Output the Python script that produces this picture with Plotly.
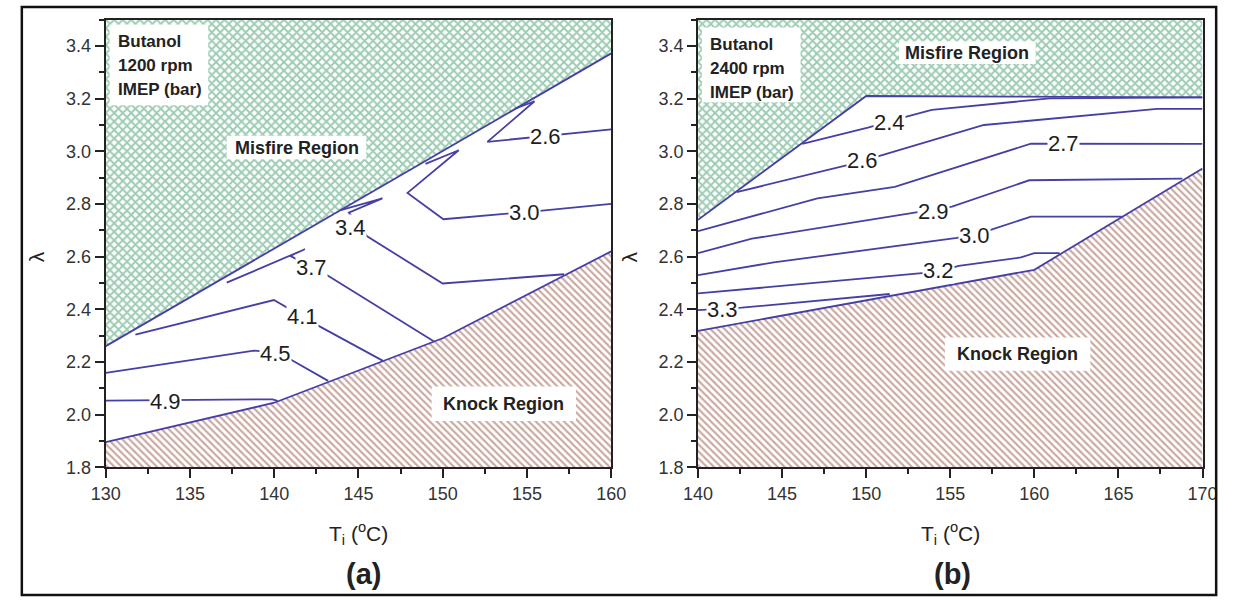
import plotly.graph_objects as go

W, H = 1238, 612

# ---------------- Panel (a): Butanol 1200 rpm ----------------
a_xrange = [130, 160]
a_misfire_x = [130, 160]
a_misfire_y = [2.26, 3.372]
a_knock_x = [130, 140, 150, 160]
a_knock_y = [1.895, 2.045, 2.29, 2.62]

a_c26_x = [154.3, 155.45, 152.65, 157.1, 160.0]
a_c26_y = [3.162, 3.19, 3.036, 3.066, 3.083]
a_c30_x = [148.98, 150.95, 147.91, 150.04, 155.75, 160.0]
a_c30_y = [2.952, 3.004, 2.842, 2.742, 2.774, 2.80]
a_c34_x = [143.95, 146.42, 144.43, 145.49, 150.0, 157.2]
a_c34_y = [2.777, 2.821, 2.767, 2.678, 2.498, 2.533]
a_c37_x = [137.18, 141.82, 140.95, 143.17, 149.49]
a_c37_y = [2.501, 2.628, 2.603, 2.528, 2.278]
a_c41_x = [131.76, 139.98, 142.69, 146.46]
a_c41_y = [2.304, 2.435, 2.335, 2.204]
a_c45_x = [130, 138.8, 140.1, 140.95, 143.2]
a_c45_y = [2.158, 2.243, 2.236, 2.21, 2.128]
a_c49_x = [130, 139.9, 140.2]
a_c49_y = [2.053, 2.058, 2.052]

a_label_text = ["2.6", "3.0", "3.4", "3.7", "4.1", "4.5", "4.9"]
a_label_x = [156.13, 154.88, 144.53, 142.2, 141.66, 140.08, 133.52]
a_label_y = [3.058, 2.767, 2.709, 2.559, 2.372, 2.231, 2.05]

# ---------------- Panel (b): Butanol 2400 rpm ----------------
b_xrange = [140, 170]
b_misfire_x = [140, 150, 170]
b_misfire_y = [2.74, 3.21, 3.205]
b_knock_x = [140, 160, 170]
b_knock_y = [2.318, 2.55, 2.935]

b_c24_x = [146.2, 150.1, 152.4, 153.9, 160.9, 170]
b_c24_y = [3.028, 3.09, 3.132, 3.157, 3.201, 3.205]
b_c26_x = [142.3, 149.8, 150.8, 157.0, 167.3, 170]
b_c26_y = [2.845, 2.962, 2.983, 3.10, 3.161, 3.161]
b_c27_x = [140, 147.1, 151.7, 159.8, 170]
b_c27_y = [2.697, 2.821, 2.865, 3.029, 3.028]
b_c29_x = [140, 143.2, 155.1, 159.7, 168.8]
b_c29_y = [2.613, 2.668, 2.79, 2.89, 2.896]
b_c30_x = [140, 144.5, 155.4, 157.4, 159.8, 165.2]
b_c30_y = [2.53, 2.578, 2.671, 2.702, 2.752, 2.752]
b_c32_x = [140, 154.3, 155.5, 159.2, 160.0, 161.5]
b_c32_y = [2.46, 2.543, 2.565, 2.597, 2.613, 2.613]
b_c33_x = [140, 142.6, 151.4]
b_c33_y = [2.397, 2.406, 2.458]

b_label_text = ["2.4", "2.6", "2.7", "2.9", "3.0", "3.2", "3.3"]
b_label_x = [151.37, 149.77, 161.76, 154.02, 156.44, 154.31, 141.45]
b_label_y = [3.11, 2.964, 3.029, 2.773, 2.68, 2.547, 2.399]

y_range = [1.8, 3.5]

LINE = "#4640a4"
GREEN = "#3a9868"
BROWN = "#94523f"
FONT = "Liberation Sans, Arial, sans-serif"

fig = go.Figure()


def add_panel(xa, ya, xr, mx, my, kx, ky, contours):
    # misfire region (crosshatch) above boundary
    fig.add_trace(go.Scatter(
        x=mx + [xr[1], xr[0]], y=my + [y_range[1], y_range[1]],
        fill="toself", mode="none", xaxis=xa, yaxis=ya,
        fillcolor="rgba(0,0,0,0)",
        fillpattern=dict(shape="x", fgcolor=GREEN, bgcolor="white",
                         size=6, solidity=0.55),
        hoverinfo="skip", showlegend=False))
    # knock region (diagonal hatch) below boundary
    fig.add_trace(go.Scatter(
        x=kx + [xr[1], xr[0]], y=ky + [y_range[0], y_range[0]],
        fill="toself", mode="none", xaxis=xa, yaxis=ya,
        fillcolor="rgba(0,0,0,0)",
        fillpattern=dict(shape="\\", fgcolor=BROWN, bgcolor="white",
                         size=5, solidity=0.42),
        hoverinfo="skip", showlegend=False))
    for cx, cy in [(mx, my), (kx, ky)] + contours:
        fig.add_trace(go.Scatter(
            x=cx, y=cy, mode="lines", xaxis=xa, yaxis=ya,
            line=dict(color=LINE, width=1.8),
            hoverinfo="skip", showlegend=False))


add_panel("x", "y", a_xrange, a_misfire_x, a_misfire_y, a_knock_x, a_knock_y,
          [(a_c26_x, a_c26_y), (a_c30_x, a_c30_y), (a_c34_x, a_c34_y),
           (a_c37_x, a_c37_y), (a_c41_x, a_c41_y), (a_c45_x, a_c45_y),
           (a_c49_x, a_c49_y)])
add_panel("x2", "y2", b_xrange, b_misfire_x, b_misfire_y, b_knock_x, b_knock_y,
          [(b_c24_x, b_c24_y), (b_c26_x, b_c26_y), (b_c27_x, b_c27_y),
           (b_c29_x, b_c29_y), (b_c30_x, b_c30_y), (b_c32_x, b_c32_y),
           (b_c33_x, b_c33_y)])

annotations = []
for xref, yref, tx, xs, ys in [("x", "y", a_label_text, a_label_x, a_label_y),
                               ("x2", "y2", b_label_text, b_label_x, b_label_y)]:
    for t, x, y in zip(tx, xs, ys):
        annotations.append(dict(x=x, y=y, xref=xref, yref=yref, text=t,
                                showarrow=False, bgcolor="white", borderpad=0,
                                font=dict(family=FONT, size=22, color="#1e1e1e")))


def P(px, py):
    return px / W, 1 - py / H


def txt(px, py, text, size, bold=False, xanchor="center", angle=0):
    x, y = P(px, py)
    annotations.append(dict(x=x, y=y, xref="paper", yref="paper",
                            text=("<b>%s</b>" % text) if bold else text,
                            showarrow=False, xanchor=xanchor, yanchor="middle",
                            textangle=angle,
                            font=dict(family=FONT, size=size, color="#222")))


# info text
for i, line in enumerate(["Butanol", "1200 rpm", "IMEP (bar)"]):
    txt(103, [42, 67, 91][i], line, 17, bold=True, xanchor="left")
for i, line in enumerate(["Butanol", "2400 rpm", "IMEP (bar)"]):
    txt(710, [45, 70, 94][i], line, 17, bold=True, xanchor="left")
txt(288.5, 150, "Misfire Region", 18, bold=True)
txt(976, 54, "Misfire Region", 18, bold=True)
txt(501, 411, "Knock Region", 18, bold=True)
txt(1027, 360, "Knock Region", 18, bold=True)
txt(352, 542, "T<sub>i</sub> (<sup>o</sup>C)", 21)
txt(958.5, 542, "T<sub>i</sub> (<sup>o</sup>C)", 21)
txt(357, 584, "(a)", 29, bold=True)
txt(961, 584, "(b)", 29, bold=True)
txt(22, 261, "λ", 21, angle=-90)
txt(630, 261, "λ", 21, angle=-90)

shapes = []
for (x0, x1, y0, y1) in [(97, 198, 25, 107), (704, 805, 28, 104),
                         (217, 360, 138, 162), (906, 1046, 42, 65),
                         (427, 575, 393, 428), (953, 1102, 343, 377)]:
    px0, py0 = P(x0, y1)
    px1, py1 = P(x1, y0)
    shapes.append(dict(type="rect", xref="paper", yref="paper", x0=px0, x1=px1,
                       y0=py0, y1=py1, fillcolor="white", line=dict(width=0),
                       layer="above"))
fx0, fy0 = P(7, 605)
fx1, fy1 = P(1231, 7)
shapes.append(dict(type="rect", xref="paper", yref="paper", x0=fx0, x1=fx1,
                   y0=fy0, y1=fy1, line=dict(color="#111", width=2.5),
                   fillcolor="rgba(0,0,0,0)", layer="above"))

axis_common = dict(showline=True, linecolor="#222", linewidth=2, mirror=True,
                   ticks="outside", ticklen=9, tickwidth=1.5, tickcolor="#222",
                   tickfont=dict(family=FONT, size=18, color="#333"),
                   showgrid=False, zeroline=False)

ydom = [1 - 475 / H, 1 - 20 / H]
fig.update_layout(
    width=W, height=H, margin=dict(l=0, r=0, t=0, b=0),
    paper_bgcolor="white", plot_bgcolor="white", showlegend=False,
    xaxis=dict(domain=[93 / W, 611 / W], range=a_xrange, tick0=130, dtick=5,
               minor=dict(ticks="outside", ticklen=5, tickwidth=1.5,
                          tickcolor="#222", dtick=2.5), anchor="y", **axis_common),
    yaxis=dict(domain=ydom, range=y_range, tick0=1.8, dtick=0.2, tickformat=".1f",
               minor=dict(ticks="outside", ticklen=5, tickwidth=1.5,
                          tickcolor="#222", dtick=0.1), anchor="x", **axis_common),
    xaxis2=dict(domain=[700 / W, 1217 / W], range=b_xrange, tick0=140, dtick=5,
                minor=dict(ticks="outside", ticklen=5, tickwidth=1.5,
                           tickcolor="#222", dtick=2.5), anchor="y2", **axis_common),
    yaxis2=dict(domain=ydom, range=y_range, tick0=1.8, dtick=0.2, tickformat=".1f",
                minor=dict(ticks="outside", ticklen=5, tickwidth=1.5,
                           tickcolor="#222", dtick=0.1), anchor="x2", **axis_common),
    annotations=annotations, shapes=shapes,
)

fig.write_html("out.html", config={"responsive": False},
               post_script="document.body.style.margin='0px';"
                           "document.body.style.overflow='hidden';")
